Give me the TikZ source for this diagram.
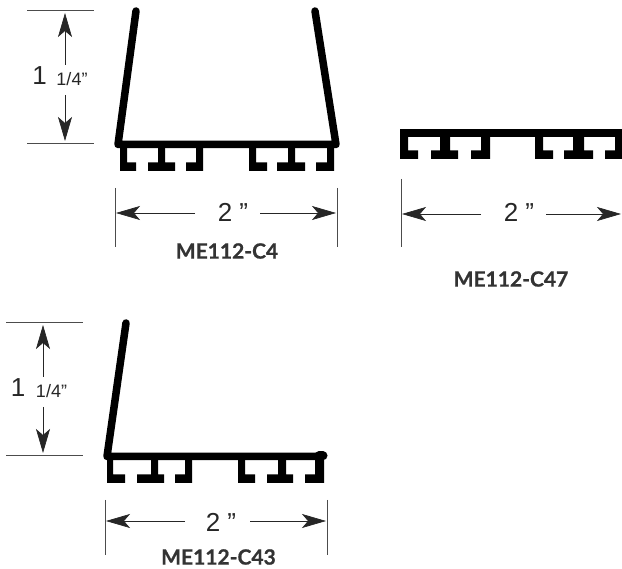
\documentclass[tikz,border=0pt]{standalone}
\usepackage{fontspec}
\setmainfont{Liberation Sans}
\newfontfamily\labelfont[FakeBold=0.8]{Lato}
\usetikzlibrary{arrows.meta}
\tikzset{
  x=1pt,y=-1pt,
  dimline/.style={draw=black!85,line width=0.7pt,-{Stealth[length=24pt,width=14pt,inset=6pt]}},
  extline/.style={draw=black!70,line width=0.8pt},
  wall/.style={draw=black,line width=7.5pt,line cap=round},
  metal/.style={fill=black,draw=none},
  dimtext/.style={font=\fontsize{26pt}{28pt}\selectfont,text=black!85,inner sep=0pt},
  smalltext/.style={font=\fontsize{18pt}{20pt}\selectfont,text=black!85,inner sep=0pt},
  partlabel/.style={font=\labelfont\bfseries\fontsize{21pt}{23pt}\selectfont,text=black!80,inner sep=0pt},
}
% one foot: #1 top y, #2,#3 foot x-range, #4,#5 stem x-range
\newcommand{\onefoot}[5]{%
  \fill[metal] (#4,#1) rectangle (#5,#1+26) (#2,#1+17.5) rectangle (#3,#1+26);
}
\begin{document}
\begin{tikzpicture}
\useasboundingbox (0,0) rectangle (622,569);
% C4 profile
\coordinate (c4a) at (136,11);
\coordinate (c4b) at (118,144.5);
\coordinate (c4c) at (336,144.5);
\coordinate (c4d) at (315,11);
\draw[wall,line join=round] (c4a) -- (c4b) -- (c4c) -- (c4d);
\onefoot{145}{120}{136}{120}{127}
\onefoot{145}{148}{175}{158}{165}
\onefoot{145}{186}{203}{196}{203}
\onefoot{145}{249}{267}{249}{256}
\onefoot{145}{277}{305}{288}{295}
\onefoot{145}{316}{334}{327}{334}
% C4 dims
\coordinate (c4t1) at (27,10); \coordinate (c4t2) at (94,10);
\coordinate (c4b1) at (27,143); \coordinate (c4b2) at (94,143);
\draw[extline] (c4t1) -- (c4t2);
\draw[extline] (c4b1) -- (c4b2);
\node[dimtext] (c4one) at (39.5,76) {1};
\node[smalltext] (c4frac) at (72,79) {1/4”};
\coordinate (c4up) at (65,65); \coordinate (c4upe) at (65,13);
\coordinate (c4dn) at (65,95); \coordinate (c4dne) at (65,141);
\draw[dimline] (c4up) -- (c4upe);
\draw[dimline] (c4dn) -- (c4dne);
\coordinate (c4l1) at (115,188); \coordinate (c4l2) at (115,247);
\coordinate (c4r1) at (337,188); \coordinate (c4r2) at (337,247);
\draw[extline] (c4l1) -- (c4l2);
\draw[extline] (c4r1) -- (c4r2);
\node[dimtext] (c4w) at (233,212) {2 ”};
\coordinate (c4ll) at (195,213); \coordinate (c4lle) at (116,213);
\coordinate (c4rr) at (260,213); \coordinate (c4rre) at (336,213);
\draw[dimline] (c4ll) -- (c4lle);
\draw[dimline] (c4rr) -- (c4rre);
\node[partlabel] (c4name) at (227,251) {ME112-C4};
% C47 profile
\fill[metal] (400,129) rectangle (622,137);
\onefoot{133}{400}{418}{400}{408}
\onefoot{133}{431}{458}{440}{450}
\onefoot{133}{471}{490}{481}{490}
\onefoot{133}{535}{553}{535}{543}
\onefoot{133}{564}{593}{573}{584}
\onefoot{133}{605}{622}{615}{622}
% C47 dims
\coordinate (c47l1) at (401,179); \coordinate (c47l2) at (401,247);
\draw[extline] (c47l1) -- (c47l2);
\node[dimtext] (c47w) at (519,212) {2 ”};
\coordinate (c47ll) at (481,214); \coordinate (c47lle) at (402,214);
\coordinate (c47rr) at (546,214); \coordinate (c47rre) at (621,214);
\draw[dimline] (c47ll) -- (c47lle);
\draw[dimline] (c47rr) -- (c47rre);
\node[partlabel] (c47name) at (511,279) {ME112-C47};
% C43 profile
\coordinate (c43a) at (126,323);
\coordinate (c43b) at (107,456.5);
\coordinate (c43c) at (322,456.5);
\coordinate (c43n) at (319,456);
\coordinate (c43m) at (323,456);
\draw[wall,line join=round] (c43a) -- (c43b) -- (c43c);
\draw[wall,line width=9pt] (c43n) -- (c43m);
\onefoot{457}{107}{125}{107}{113}
\onefoot{457}{137}{164}{151}{158}
\onefoot{457}{175}{192}{185}{192}
\onefoot{457}{238}{255}{238}{245}
\onefoot{457}{267}{293}{278}{286}
\onefoot{457}{305}{324}{315}{324}
% C43 dims
\coordinate (c43t1) at (6,322); \coordinate (c43t2) at (83,322);
\coordinate (c43b1) at (6,455); \coordinate (c43b2) at (83,455);
\draw[extline] (c43t1) -- (c43t2);
\draw[extline] (c43b1) -- (c43b2);
\node[dimtext] (c43one) at (18,388) {1};
\node[smalltext] (c43frac) at (51.5,391) {1/4”};
\coordinate (c43up) at (43,377); \coordinate (c43upe) at (43,325);
\coordinate (c43dn) at (43,407); \coordinate (c43dne) at (43,453);
\draw[dimline] (c43up) -- (c43upe);
\draw[dimline] (c43dn) -- (c43dne);
\coordinate (c43l1) at (105,500); \coordinate (c43l2) at (105,555);
\coordinate (c43r1) at (327,500); \coordinate (c43r2) at (327,555);
\draw[extline] (c43l1) -- (c43l2);
\draw[extline] (c43r1) -- (c43r2);
\node[dimtext] (c43w) at (221,522) {2 ”};
\coordinate (c43ll) at (185,521); \coordinate (c43lle) at (106,521);
\coordinate (c43rr) at (250,521); \coordinate (c43rre) at (326,521);
\draw[dimline] (c43ll) -- (c43lle);
\draw[dimline] (c43rr) -- (c43rre);
\node[partlabel] (c43name) at (218.5,557) {ME112-C43};
\end{tikzpicture}
\end{document}
